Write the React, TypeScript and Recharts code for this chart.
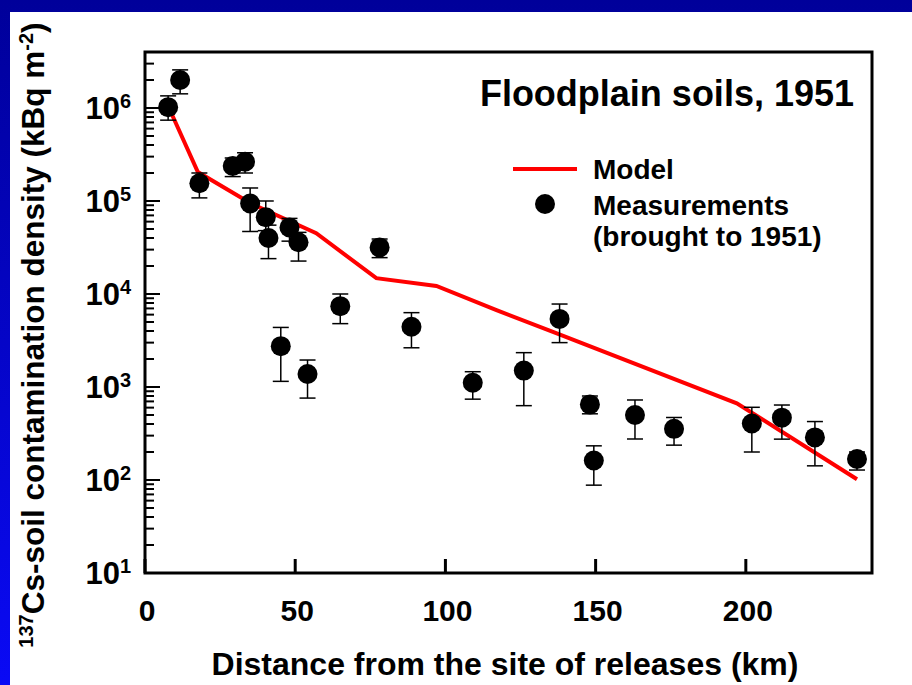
import React from 'react';
import { ComposedChart, Line, Scatter, ErrorBar, XAxis, YAxis, Customized } from 'recharts';

const FONT = '"Liberation Sans", Arial, Helvetica, sans-serif';

// model curve, floodplain soils 1951
const modelKm = [8, 17.6, 35, 57, 77, 97, 117, 136, 197, 237];
const modelDensity = [1.0e6, 2.05e5, 9.5e4, 4.5e4, 1.48e4, 1.22e4, 6.7e3, 3.9e3, 668, 102];

// measurements brought to 1951 (kBq m-2) with error bar ends
const measKm = [7.7, 11.7, 18.1, 29.2, 33.3, 35, 40.2, 41.1, 48.1, 51.1, 45.2, 54.1, 65, 78.1, 88.7, 109.1, 126.1, 138, 148.1, 149.4, 163.1, 176.1, 202, 212, 223, 237];
const measDensity = [1.02e6, 2.0e6, 1.55e5, 2.38e5, 2.64e5, 9.4e4, 6.7e4, 4.0e4, 5.2e4, 3.6e4, 2750, 1380, 7400, 3.17e4, 4450, 1110, 1500, 5400, 650, 162, 500, 355, 405, 468, 287, 168];
const measLow = [7.4e5, 1.42e6, 1.08e5, 1.83e5, 2.0e5, 4.7e4, 4.8e4, 2.4e4, 3.7e4, 2.26e4, 1150, 760, 4800, 2.46e4, 2640, 740, 630, 3000, 515, 88, 276, 237, 200, 275, 142, 128];
const measHigh = [1.35e6, 2.57e6, 2.0e5, 2.9e5, 3.3e5, 1.38e5, 1.0e5, 5.5e4, 6.5e4, 4.6e4, 4370, 1950, 1.0e4, 3.9e4, 6300, 1460, 2340, 7800, 800, 233, 725, 470, 605, 640, 425, 200];

const xTicks = [0, 50, 100, 150, 200];
const yDecades = [10, 100, 1e3, 1e4, 1e5, 1e6];
const yMinorSteps = [2, 3, 4, 5, 6, 7, 8, 9];
const yTopMinors = [2e6, 3e6];

const modelData = modelKm.map((km, i) => ({ km, model: modelDensity[i] }));
const measData = measKm.map((km, i) => ({
  km,
  meas: measDensity[i],
  err: [measDensity[i] - measLow[i], measHigh[i] - measDensity[i]],
}));

const yTicks = [
  ...yDecades.slice(0, -1).flatMap((d) => [d, ...yMinorSteps.map((m) => m * d)]),
  1e6,
  ...yTopMinors,
];

// plot frame
const LEFT = 145;
const TOP = 52;
const RIGHT = 872;
const BOTTOM = 573;

function XTick(props: any) {
  const { x, y, payload } = props;
  return (
    <g>
      <line x1={x} y1={y} x2={x} y2={y - 14} stroke="#000" strokeWidth={3} />
      <text x={x + 2} y={y + 48} textAnchor="middle" fontFamily={FONT} fontWeight="bold" fontSize={30} fill="#000">
        {payload.value}
      </text>
    </g>
  );
}

function YTick(props: any) {
  const { x, y, payload } = props;
  const v = payload.value;
  const exp = Math.round(Math.log10(v));
  const major = Math.abs(Math.log10(v) - exp) < 1e-6;
  return (
    <g>
      <line x1={x} y1={y} x2={x + (major ? 15 : 9)} y2={y} stroke="#000" strokeWidth={2} />
      {major && (
        <text x={x - 14} y={y + 11} textAnchor="end" fontFamily={FONT} fontWeight="bold" fontSize={31} fill="#000">
          10
          <tspan fontSize={20} dy={-11}>{exp}</tspan>
        </text>
      )}
    </g>
  );
}

function Annotations() {
  return (
    <g fontFamily={FONT} fontWeight="bold" fill="#000">
      <rect x={LEFT} y={TOP} width={RIGHT - LEFT} height={BOTTOM - TOP} fill="none" stroke="#000" strokeWidth={3} />
      <text x={854} y={106} textAnchor="end" fontSize={36}>Floodplain soils, 1951</text>
      <line x1={513} y1={169} x2={577} y2={169} stroke="#ff0000" strokeWidth={4} />
      <circle cx={545} cy={204} r={10} fill="#000" />
      <text x={593} y={179} fontSize={28}>Model</text>
      <text x={593} y={215} fontSize={28}>Measurements</text>
      <text x={593} y={246} fontSize={28}>(brought to 1951)</text>
      <text x={505} y={675} textAnchor="middle" fontSize={32}>Distance from the site of releases (km)</text>
      <text transform="translate(44,335) rotate(-90)" textAnchor="middle" fontSize={31.5}>
        <tspan fontSize={20} dy={-11}>137</tspan>
        <tspan fontSize={31.5} dy={11}>Cs-soil contamination density (kBq m</tspan>
        <tspan fontSize={20} dy={-11}>-2</tspan>
        <tspan fontSize={31.5} dy={11}>)</tspan>
      </text>
    </g>
  );
}

export default function App() {
  return (
    <div
      style={{
        position: 'absolute',
        left: 0,
        top: 0,
        width: 912,
        height: 685,
        background: 'linear-gradient(to bottom, #00009a, #0a0af5)',
      }}
    >
      <div style={{ position: 'absolute', left: 10, top: 12, right: 0, bottom: 0, background: '#fff' }} />
      <div style={{ position: 'absolute', left: 0, top: 0 }}>
        <ComposedChart width={912} height={685} margin={{ top: TOP, right: 912 - RIGHT, bottom: 32, left: 10 }}>
          <XAxis
            dataKey="km"
            type="number"
            domain={[0, 242]}
            ticks={xTicks}
            interval={0}
            allowDataOverflow
            height={80}
            axisLine={false}
            tickLine={false}
            tickSize={0}
            tickMargin={0}
            tick={(p: any) => <XTick {...p} />}
          />
          <YAxis
            type="number"
            scale="log"
            domain={[10, 4e6]}
            ticks={yTicks}
            interval={0}
            allowDataOverflow
            width={135}
            axisLine={false}
            tickLine={false}
            tickSize={0}
            tickMargin={0}
            tick={(p: any) => <YTick {...p} />}
          />
          <Line
            data={modelData}
            dataKey="model"
            type="linear"
            stroke="#ff0000"
            strokeWidth={4}
            dot={false}
            isAnimationActive={false}
          />
          <Scatter
            data={measData}
            dataKey="meas"
            fill="#000"
            isAnimationActive={false}
            shape={(p: any) => <circle cx={p.cx} cy={p.cy} r={10} fill="#000" />}
          >
            <ErrorBar dataKey="err" direction="y" width={8} stroke="#000" strokeWidth={1.5} isAnimationActive={false} />
          </Scatter>
          <Customized component={Annotations} />
        </ComposedChart>
      </div>
    </div>
  );
}
